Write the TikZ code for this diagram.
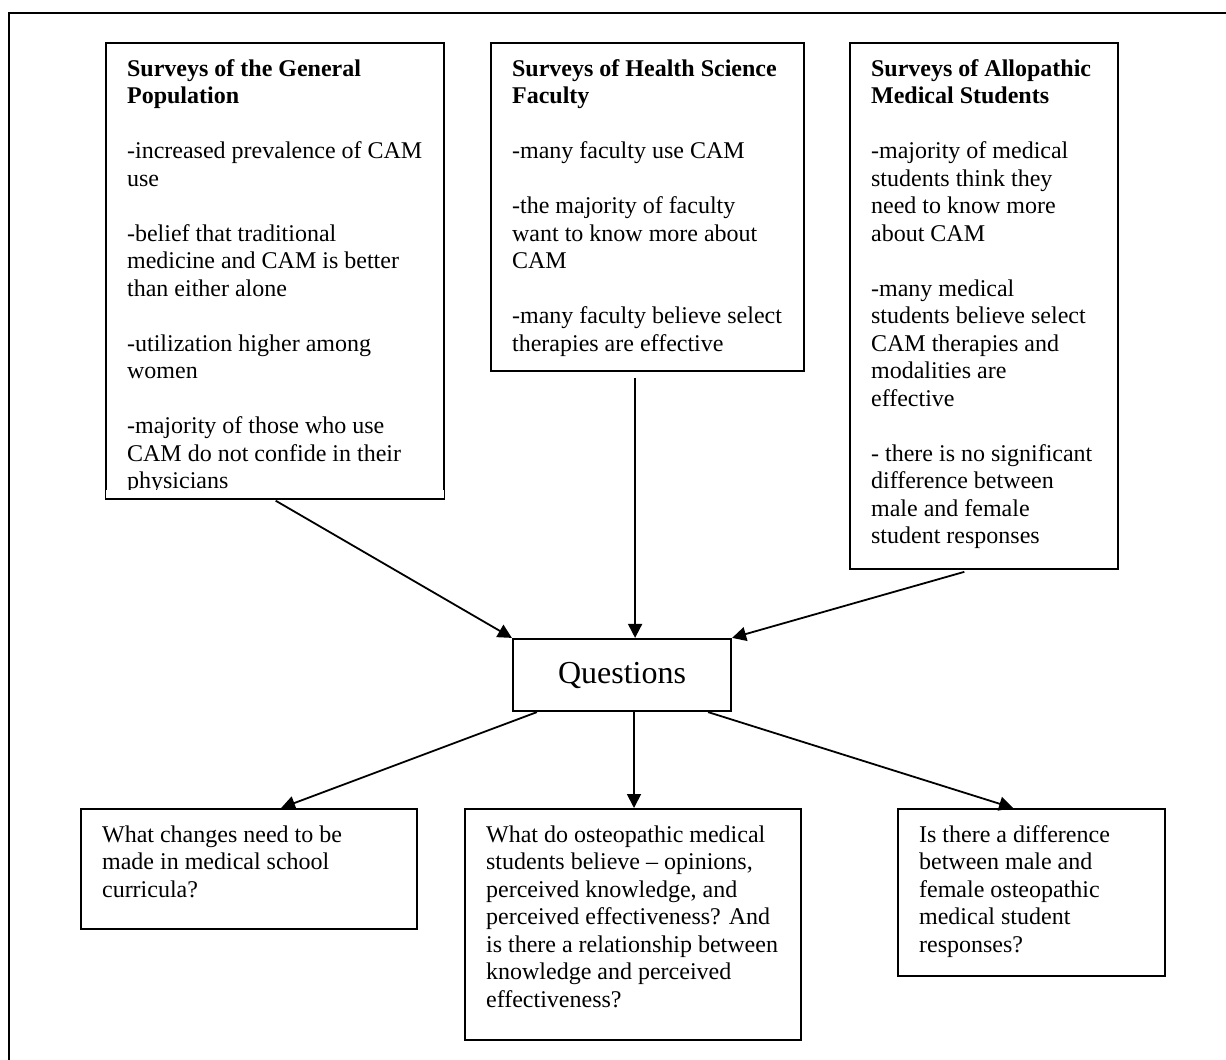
\documentclass[tikz,border=0pt]{standalone}
\usepackage{fontspec}
\setmainfont{Liberation Serif}
\usetikzlibrary{arrows.meta,positioning}
% text of a box, top aligned: width, height, text
\newcommand{\boxText}[3]{\parbox[t][\dimexpr#2-14pt\relax][t]{\dimexpr#1-21pt\relax}{%
	\parindent=0pt \rightskip=-15pt plus 1fil \strut#3}}
\newcommand{\gap}{\\[13.75pt]}
\tikzset{
myFrame/.style={line width=1.2pt}
, myBox/.style={
	draw, line width=1.1pt, anchor=north west,
	inner xsep=10.5pt, inner ysep=7pt,
	font=\fontsize{12}{13.75}\selectfont
}
, myQuestion/.style={
	draw, line width=1.1pt,
	minimum width=109pt, minimum height=36pt, inner sep=0pt,
	font=\fontsize{16}{19}\selectfont
}
% link
, myLink/.style={-{Triangle[length=7pt,width=7pt]}, line width=0.9pt}
}
\begin{document}
\begin{tikzpicture}[x=0.5pt,y=-0.5pt]
	\useasboundingbox (0,0) rectangle (1226,1060);
	\clip (0,0) rectangle (1226,1060);
	% frame
	\draw[myFrame] (9,13) rectangle (1250,1090);
	% surveys
	\node[myBox] (General) at (105,42) {\boxText{169pt}{227.5pt}{%
		\textbf{Surveys of the General\\ Population}\gap
		-increased prevalence of CAM\\ use\gap
		-belief that traditional\\ medicine and CAM is better\\ than either alone\gap
		-utilization higher among\\ women\gap
		-majority of those who use\\ CAM do not confide in their\\ physicians}};
	\fill[white] ([shift={(0.6pt,0.6pt)}]General.south west) rectangle ([shift={(-0.6pt,4.5pt)}]General.south east);
	\draw[line width=1.1pt] (General.south west) -- (General.south east);
	\node[myBox] (Faculty) at (490,42) {\boxText{156.5pt}{164pt}{%
		\textbf{Surveys of Health Science\\ Faculty}\gap
		-many faculty use CAM\gap
		-the majority of faculty\\ want to know more about\\ CAM\gap
		-many faculty believe select\\ therapies are effective}};
	\node[myBox] (Students) at (849,42) {\boxText{134pt}{263pt}{%
		\textbf{Surveys of Allopathic\\ Medical Students}\gap
		-majority of medical\\ students think they\\ need to know more\\ about CAM\gap
		-many medical\\ students believe select\\ CAM therapies and\\ modalities are\\ effective\gap
		- there is no significant\\ difference between\\ male and female\\ student responses}};
	% questions
	\node[myQuestion] (Questions) at (622,675) {Questions};
	\node[myBox] (Curricula) at (80,808) {\boxText{168pt}{60pt}{%
		What changes need to be\\ made in medical school\\ curricula?}};
	\node[myBox] (Beliefs) at (464,808) {\boxText{168pt}{115.5pt}{%
		What do osteopathic medical\\ students believe -- opinions,\\ perceived knowledge, and\\
		perceived effectiveness? And\\ is there a relationship between\\ knowledge and perceived\\ effectiveness?}};
	\node[myBox] (Difference) at (897,808) {\boxText{133.5pt}{83.5pt}{%
		Is there a difference\\ between male and\\ female osteopathic\\ medical student\\ responses?}};
	% links
	\draw[myLink, shorten <=1.5pt] ([xshift=-1pt]General.south) -- (Questions.north west);
	\draw[myLink, shorten <=3pt] ([xshift=-6.25pt]Faculty.south) -- ([xshift=-6.25pt]Faculty.south |- Questions.north);
	\draw[myLink, shorten <=3pt] ([xshift=-7pt]Students.south) -- (Questions.north east);
	\draw[myLink] ([xshift=12.5pt]Questions.south west) -- ([xshift=16pt]Curricula.north);
	\draw[myLink] ([xshift=6pt]Questions.south) -- ([xshift=6pt]Questions.south |- Beliefs.north);
	\draw[myLink] ([xshift=-12pt]Questions.south east) -- ([xshift=-9.25pt]Difference.north);
\end{tikzpicture}
\end{document}
